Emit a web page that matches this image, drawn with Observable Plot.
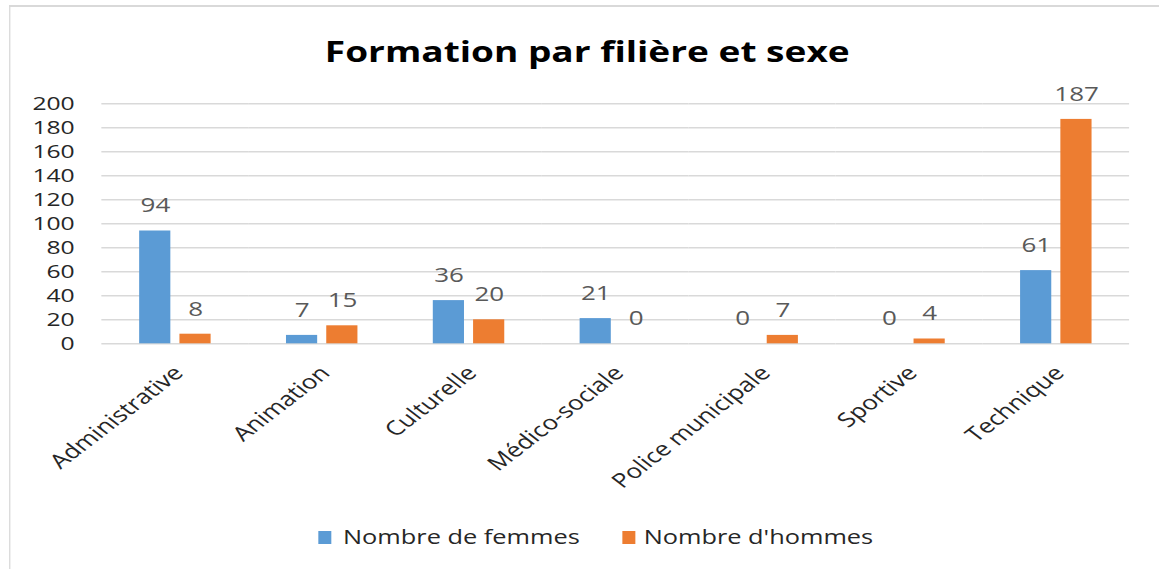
<!DOCTYPE html>
<html><head><meta charset="utf-8">
<script src="https://cdn.jsdelivr.net/npm/d3@7"></script>
<script src="https://cdn.jsdelivr.net/npm/@observablehq/plot@0.6"></script>
<style>
html,body{margin:0;padding:0;background:#fff;overflow:hidden}
#wrap{position:relative;width:892px;height:569px;transform:scaleX(1.2993);transform-origin:0 0;font-family:"Open Sans",sans-serif;overflow:hidden}
#frame{position:absolute;left:7px;top:5px;width:2000px;height:2000px;border-left:1.6px solid #d9d9d9;border-top:2px solid #d9d9d9;box-sizing:border-box}
#title{position:absolute;left:152px;width:600px;top:37px;text-align:center;font-size:28.5px;line-height:28px;font-weight:700;color:#000;white-space:nowrap}
#chart{position:absolute;left:0;top:80px}
.leg{position:absolute;top:526.7px;font-size:19.5px;line-height:19.5px;color:#262626;white-space:nowrap}
.sw{position:absolute;top:530.5px;width:10px;height:13px}
</style></head>
<body>
<div id="wrap">
  <div id="frame"></div>
  <div id="title">Formation par filière et sexe</div>
  <div id="chart"></div>
  <div id="legend"></div>
</div>
<script>
const categories = ["Administrative","Animation","Culturelle","Médico-sociale","Police municipale","Sportive","Technique"];
const femmes = [94, 7, 36, 21, 0, 0, 61];
const hommes = [8, 15, 20, 0, 7, 4, 187];
const series = ["Nombre de femmes", "Nombre d'hommes"];
const colors = ["#5b9bd5", "#ed7d31"];
const yTicks = [0, 20, 40, 60, 80, 100, 120, 140, 160, 180, 200];

const data = categories.flatMap((c, i) => [
  {cat: c, serie: series[0], v: femmes[i]},
  {cat: c, serie: series[1], v: hommes[i]}
]);

const chart = Plot.plot({
  width: 892,
  height: 420,
  marginTop: 23.3,
  marginBottom: 156.7,
  marginLeft: 76.9,
  marginRight: 21.2,
  style: {fontFamily: "Open Sans", background: "transparent", overflow: "visible"},
  fx: {domain: categories, padding: 0, label: null},
  x: {domain: series, paddingInner: 0.22, paddingOuter: 0.88, axis: null},
  y: {domain: [0, 200], label: null},
  color: {domain: series, range: colors},
  marks: [
    Plot.gridY(yTicks, {stroke: "#d9d9d9", strokeOpacity: 1, strokeWidth: 1.6}),
    Plot.barY(data, {fx: "cat", x: "serie", y: "v", fill: "serie"}),
    Plot.text(data, {fx: "cat", x: "serie", y: "v", text: d => String(d.v), dy: -25, fill: "#595959", fontSize: 20}),
    Plot.axisY(yTicks, {tickSize: 0, tickPadding: 21, fontSize: 19, fill: "#262626", label: null}),
    Plot.axisFx({anchor: "bottom", tickRotate: -45, tickSize: 0, tickPadding: 26, dx: 2.5, fontSize: 20, fill: "#262626", label: null})
  ]
});
document.getElementById("chart").appendChild(chart);

const legend = document.getElementById("legend");
const legPos = [[245.4, 264], [479.4, 495.4]];
series.forEach((s, i) => {
  const sw = document.createElement("div");
  sw.className = "sw";
  sw.style.left = legPos[i][0] + "px";
  sw.style.background = colors[i];
  legend.appendChild(sw);
  const t = document.createElement("div");
  t.className = "leg";
  t.style.left = legPos[i][1] + "px";
  t.textContent = s;
  legend.appendChild(t);
});
</script>
</body></html>
